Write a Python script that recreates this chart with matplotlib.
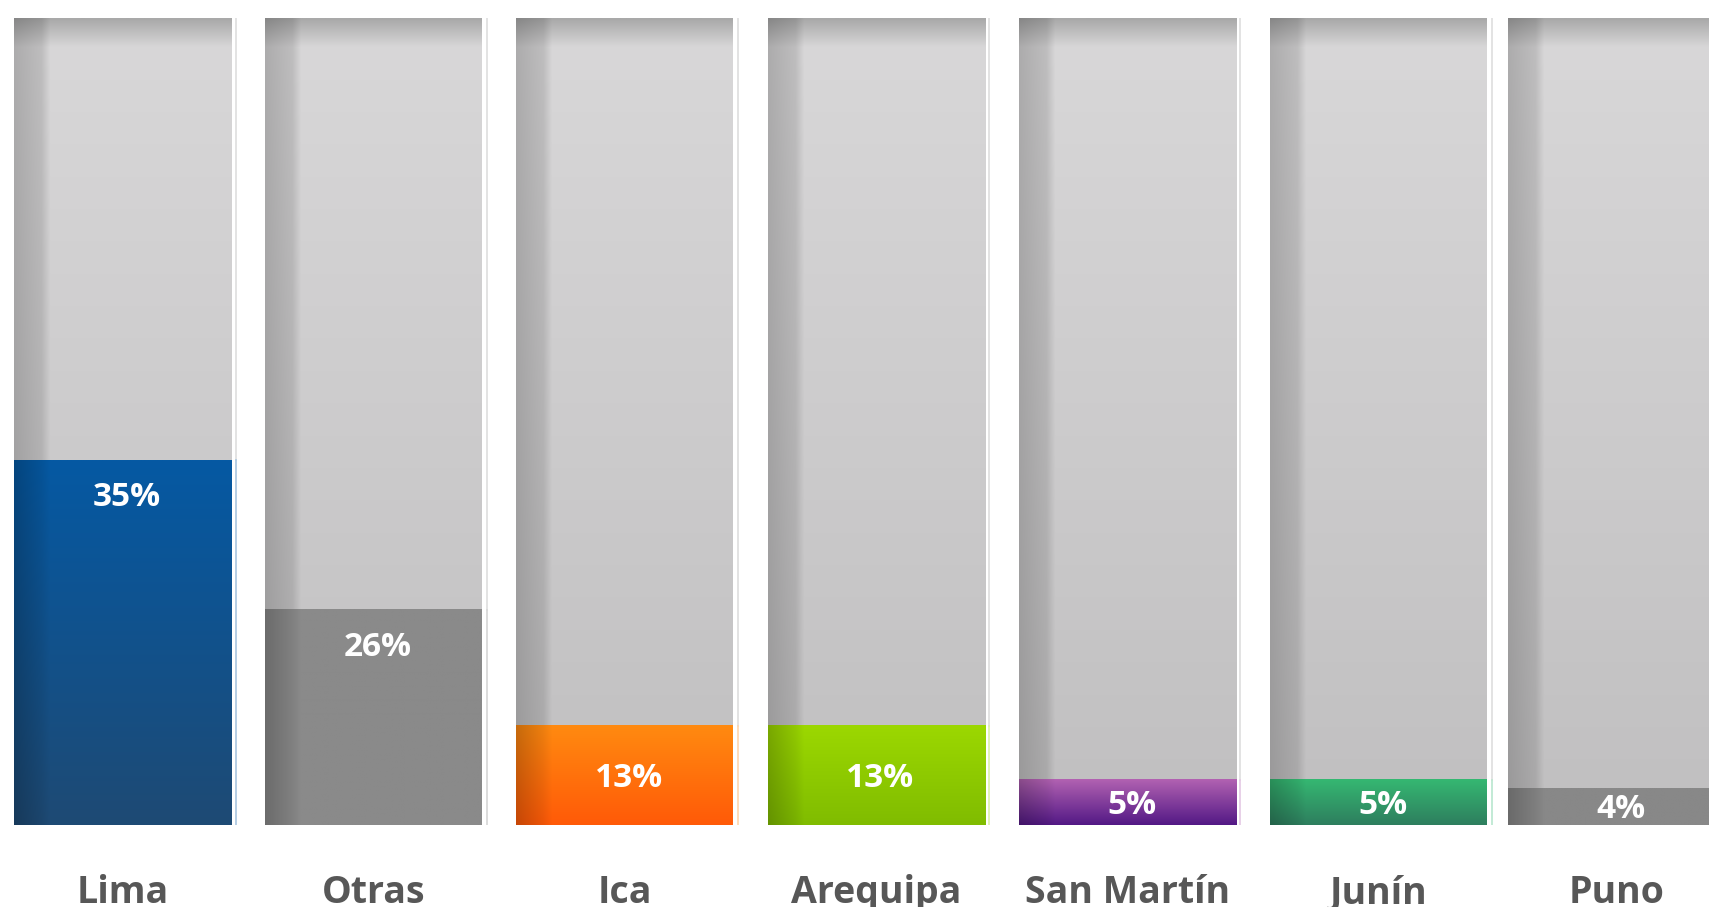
import numpy as np
import matplotlib.pyplot as plt
from matplotlib.colors import to_rgb

# data
regions = ['Lima', 'Otras', 'Ica', 'Arequipa', 'San Martín', 'Junín', 'Puno']
shares = [35, 26, 13, 13, 5, 5, 4]                      # printed percentages
bar_heights = [45.2, 26.7, 12.3, 12.3, 5.6, 5.6, 4.5]   # drawn height, % of the grey track

# styles
top_colors = ['#0559a3', '#8a8a8a', '#ff8a10', '#9cd800', '#b262b2', '#35b872', '#888888']
bottom_colors = ['#1e4a74', '#8a8a8a', '#ff5a08', '#80bc00', '#531985', '#2e7e5e', '#888888']
label_color = '#575757'
font = 'Open Sans'

W, H, DPI = 1709, 907, 100
pitch_px = 251.2
first_center_px = 122.5
track_bottom_px, track_top_px = 825, 18
ppu = (track_bottom_px - track_top_px) / 100.0   # pixels per % on the y axis


def shade_columns(lo, hi, m=200):
    # darker strip along the left edge of every bar, soft step at ~14% width
    u = np.linspace(0, 1, m)
    f = np.ones(m)
    ramp = u < 0.125
    f[ramp] = lo + (hi - lo) * u[ramp] / 0.125
    step = (u >= 0.125) & (u < 0.165)
    f[step] = hi + (1 - hi) * (u[step] - 0.125) / 0.04
    return f


def bar_image(top, bottom, n=256):
    t = np.linspace(0, 1, n)[:, None]
    col = np.array(to_rgb(top)) * (1 - t) + np.array(to_rgb(bottom)) * t
    img = col[:, None, :] * shade_columns(0.78, 0.93)[None, :, None]
    return np.clip(img, 0, 1)


def track_image(n=400):
    t = np.linspace(0, 1, n)[:, None]
    a, b, c = [np.array(to_rgb(h)) for h in ('#a9a9a9', '#d8d7d8', '#c0bfc0')]
    band = 0.035
    s1 = np.clip(t / band, 0, 1)
    s2 = np.clip((t - band) / (1 - band), 0, 1)
    col = np.where(t < band, a * (1 - s1) + b * s1, b * (1 - s2) + c * s2)
    img = col[:, None, :] * shade_columns(0.80, 0.88)[None, :, None]
    return np.clip(img, 0, 1)


fig = plt.figure(figsize=(W / DPI, H / DPI), dpi=DPI)
ax = fig.add_axes([0, (H - track_bottom_px) / H, 1, (track_bottom_px - track_top_px) / H])
ax.axis('off')

positions = np.arange(len(regions), dtype=float)
positions[-1] -= 0.053   # last bar sits slightly closer to its neighbour
width = 217 / pitch_px
line_dx = 4.5 / pitch_px

tracks = ax.bar(positions, [100] * len(regions), width=width, color='none')
bars = ax.bar(positions, bar_heights, width=width, color='none')

timg = track_image()
for i, (tr, br) in enumerate(zip(tracks, bars)):
    l, r = tr.get_x(), tr.get_x() + tr.get_width()
    ax.imshow(timg, extent=(l, r, 0, tr.get_height()), aspect='auto',
              interpolation='bilinear', zorder=1)
    h = br.get_height()
    ax.imshow(bar_image(top_colors[i], bottom_colors[i]), extent=(l, r, 0, h),
              aspect='auto', interpolation='bilinear', zorder=2)
    # thin light rule beside the right edge
    tint = np.array(to_rgb(top_colors[i])) * 0.35 + 0.65
    ax.plot([r + line_dx] * 2, [h, 100], color='#dedede', lw=1.2, zorder=3)
    ax.plot([r + line_dx] * 2, [0, h], color=tint, lw=1.2, zorder=3)

    # value label: near the top of tall bars, centred in short ones
    if h > 20:
        y_lab = h - 46 / ppu
    else:
        y_lab = h / 2 - 11.5 / ppu
    ax.annotate(f'{shares[i]}%', xy=(positions[i], y_lab), xytext=(3, 0),
                textcoords='offset points', ha='center', va='baseline',
                fontsize=24, fontweight='bold', color='white', family=font, zorder=4)

    ax.annotate(regions[i], xy=(positions[i], 0), xycoords='data',
                xytext=(0, -78 * 72 / DPI), textcoords='offset points',
                ha='center', va='baseline', fontsize=27, fontweight='bold',
                color=label_color, family=font, annotation_clip=False)

x0 = -first_center_px / pitch_px
ax.set_xlim(x0, x0 + W / pitch_px)
ax.set_ylim(0, 100)

fig.savefig('out.png', dpi=DPI)
